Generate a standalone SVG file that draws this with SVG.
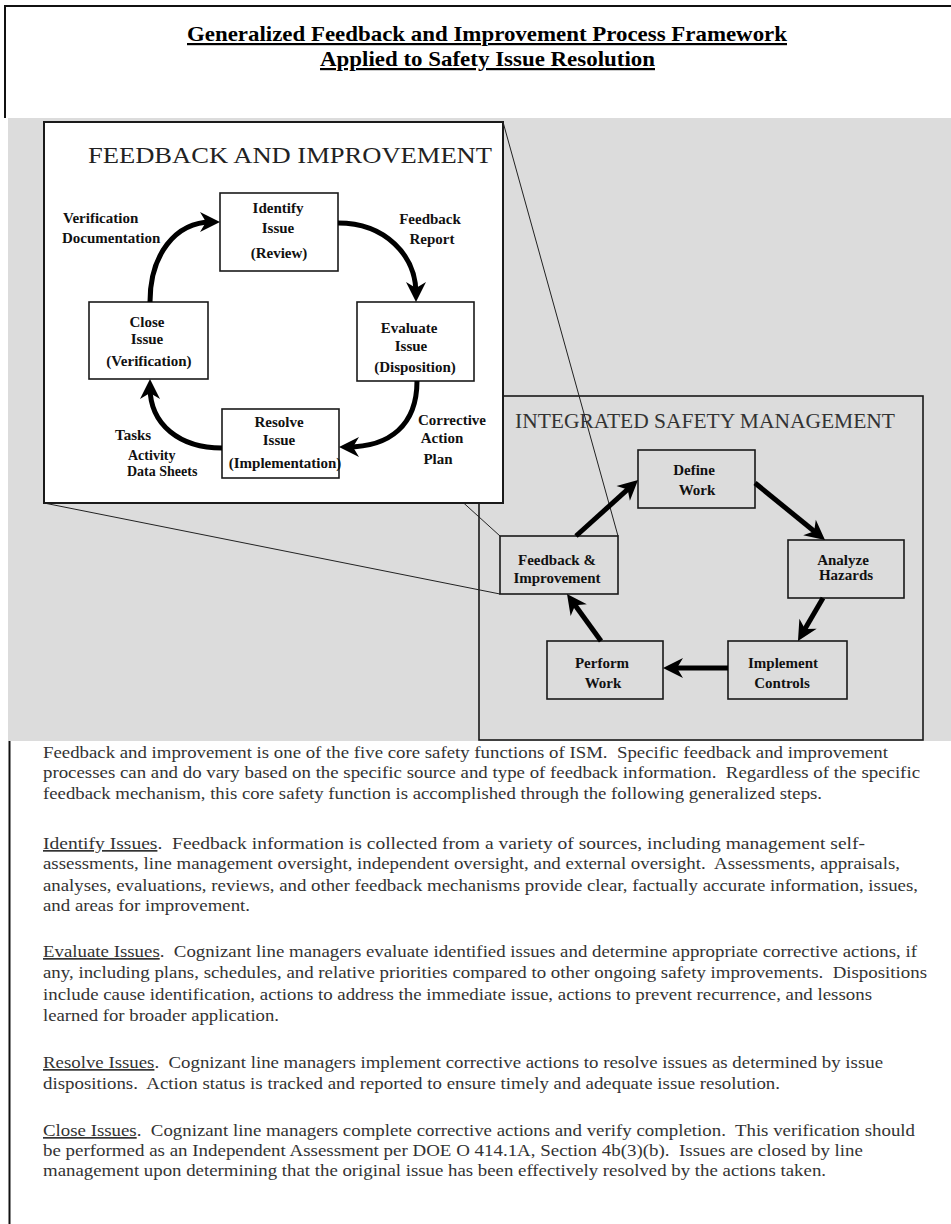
<svg xmlns="http://www.w3.org/2000/svg" width="951" height="1224" viewBox="0 0 951 1224">
<style>
.frame{stroke:#111;stroke-width:2;fill:none}
.box{fill:#fff;stroke:#1a1a1a;stroke-width:2}
.gbox{fill:#dcdcdc;stroke:#1a1a1a;stroke-width:1.6}
.node{fill:#fff;stroke:#1a1a1a;stroke-width:1.6}
.gnode{fill:#dcdcdc;stroke:#1a1a1a;stroke-width:1.6}
.nt{font-family:"Liberation Serif","Times New Roman",serif;font-weight:bold;font-size:15px;fill:#111;text-anchor:middle}
.lb{font-family:"Liberation Serif","Times New Roman",serif;font-weight:bold;font-size:15px;fill:#111}
.hd{font-family:"Liberation Serif","Times New Roman",serif;font-size:23px;fill:#222}
.title{font-family:"Liberation Serif","Times New Roman",serif;font-weight:bold;font-size:22px;fill:#000;text-decoration:underline}
.p{font-family:"Liberation Serif","Times New Roman",serif;font-size:17px;fill:#333;white-space:pre}
.arc{fill:none;stroke:#000;stroke-width:5}
.cl{fill:none;stroke:#222;stroke-width:1}
</style>
<defs>
<marker id="ah" viewBox="-22 -12 24 24" markerWidth="24" markerHeight="24" markerUnits="userSpaceOnUse" refX="-8" refY="0" orient="auto">
<path d="M0,0 L-20,-10 L-14,0 L-20,10 Z" fill="#000"/>
</marker>
</defs>
<rect width="951" height="1224" fill="#fff"/>
<!-- page frame -->
<path class="frame" d="M5,118 V6 H951"/>
<path class="frame" d="M9.5,741 V1224"/>
<!-- title -->
<g id="title">
<text class="title" x="187" y="41" textLength="600" lengthAdjust="spacingAndGlyphs">Generalized Feedback and Improvement Process Framework </text>
<text class="title" x="320" y="66" textLength="335" lengthAdjust="spacingAndGlyphs">Applied to Safety Issue Resolution</text>
</g>
<!-- gray band -->
<rect x="8" y="118" width="943" height="623" fill="#dcdcdc"/>
<!-- ISM box -->
<g id="ism-box">
<rect class="gbox" x="479" y="396" width="444" height="344"/>
<text class="hd" x="515" y="428" textLength="380" lengthAdjust="spacingAndGlyphs" style="font-size:21px;fill:#333">INTEGRATED SAFETY MANAGEMENT</text>
</g>
<!-- callout lines -->
<g id="callout">
<line class="cl" x1="44" y1="122" x2="500" y2="536"/>
<line class="cl" x1="44" y1="503" x2="500" y2="594"/>
</g>
<!-- Feedback box -->
<g id="fb-box">
<rect class="box" x="44" y="122" width="459" height="381"/>
<text class="hd" x="88" y="163" textLength="404" lengthAdjust="spacingAndGlyphs">FEEDBACK AND IMPROVEMENT</text>
</g>
<line class="cl" x1="503" y1="122" x2="618" y2="536"/>
<g id="fb-identify">
<rect class="node" x="220" y="193" width="118" height="78"/>
<text class="nt" x="278" y="213">Identify</text>
<text class="nt" x="278" y="233">Issue</text>
<text class="nt" x="279" y="258">(Review)</text>
</g>
<g id="fb-evaluate">
<rect class="node" x="357" y="302" width="117" height="79"/>
<text class="nt" x="409" y="333">Evaluate</text>
<text class="nt" x="411" y="351">Issue</text>
<text class="nt" x="415" y="372">(Disposition)</text>
</g>
<g id="fb-resolve">
<rect class="node" x="222" y="409" width="117" height="69"/>
<text class="nt" x="279" y="427">Resolve</text>
<text class="nt" x="279" y="445">Issue</text>
<text class="nt" x="285" y="468">(Implementation)</text>
</g>
<g id="fb-close">
<rect class="node" x="89" y="302" width="119" height="77"/>
<text class="nt" x="147" y="327">Close</text>
<text class="nt" x="147" y="344">Issue</text>
<text class="nt" x="149" y="366">(Verification)</text>
</g>
<g id="fb-labels">
<text class="lb" x="63" y="223">Verification</text>
<text class="lb" x="62" y="243">Documentation</text>
<text class="lb" x="430" y="224" text-anchor="middle">Feedback</text>
<text class="lb" x="432" y="244" text-anchor="middle">Report</text>
<text class="lb" x="452" y="425" text-anchor="middle">Corrective</text>
<text class="lb" x="442" y="443" text-anchor="middle">Action</text>
<text class="lb" x="438" y="464" text-anchor="middle">Plan</text>
<text class="lb" x="115" y="440">Tasks</text>
<text class="lb" x="128" y="460" style="font-size:14px">Activity</text>
<text class="lb" x="127" y="476" style="font-size:14px">Data Sheets</text>
</g>
<g id="fb-connectors">
<path class="arc" d="M150,302 C150,255 175,222 212,222" marker-end="url(#ah)"/>
<path class="arc" d="M338,223 C385,223 416,255 416,294" marker-end="url(#ah)"/>
<path class="arc" d="M417,381 C417,425 390,447 347,447" marker-end="url(#ah)"/>
<path class="arc" d="M222,448 C180,448 150,425 150,387" marker-end="url(#ah)"/>
</g>
<!-- ISM nodes -->
<g id="ism-define">
<rect class="gnode" x="638" y="450" width="117" height="58"/>
<text class="nt" x="694" y="475">Define</text>
<text class="nt" x="697" y="495">Work</text>
</g>
<g id="ism-analyze">
<rect class="gnode" x="788" y="540" width="116" height="58"/>
<text class="nt" x="843" y="565">Analyze</text>
<text class="nt" x="846" y="580">Hazards</text>
</g>
<g id="ism-implement">
<rect class="gnode" x="728" y="641" width="119" height="58"/>
<text class="nt" x="783" y="668">Implement</text>
<text class="nt" x="782" y="688">Controls</text>
</g>
<g id="ism-perform">
<rect class="gnode" x="547" y="641" width="116" height="58"/>
<text class="nt" x="602" y="668">Perform</text>
<text class="nt" x="603" y="688">Work</text>
</g>
<g id="ism-feedback">
<rect class="gnode" x="500" y="536" width="118" height="58"/>
<text class="nt" x="557" y="565">Feedback &amp;</text>
<text class="nt" x="557" y="583">Improvement</text>
</g>
<g id="ism-connectors">
<path class="arc" d="M576,536 L632.1,485.4" marker-end="url(#ah)"/>
<path class="arc" d="M755,483 L818.8,535" marker-end="url(#ah)"/>
<path class="arc" d="M823,598 L802,634.1" marker-end="url(#ah)"/>
<path class="arc" d="M728,668 L671,668" marker-end="url(#ah)"/>
<path class="arc" d="M601,641 L571.7,600.5" marker-end="url(#ah)"/>
</g>
<!-- body text -->
<g id="body">
<text class="p" x="43" y="758" textLength="845" lengthAdjust="spacingAndGlyphs">Feedback and improvement is one of the five core safety functions of ISM.  Specific feedback and improvement</text>
<text class="p" x="43" y="778" textLength="877" lengthAdjust="spacingAndGlyphs">processes can and do vary based on the specific source and type of feedback information.  Regardless of the specific</text>
<text class="p" x="43" y="799" textLength="779" lengthAdjust="spacingAndGlyphs">feedback mechanism, this core safety function is accomplished through the following generalized steps.</text>

<text class="p" x="43" y="849" textLength="822" lengthAdjust="spacingAndGlyphs"><tspan text-decoration="underline">Identify Issues</tspan>.  Feedback information is collected from a variety of sources, including management self-</text>
<text class="p" x="43" y="869" textLength="857" lengthAdjust="spacingAndGlyphs">assessments, line management oversight, independent oversight, and external oversight.  Assessments, appraisals,</text>
<text class="p" x="43" y="891" textLength="875" lengthAdjust="spacingAndGlyphs">analyses, evaluations, reviews, and other feedback mechanisms provide clear, factually accurate information, issues,</text>
<text class="p" x="43" y="911" textLength="207" lengthAdjust="spacingAndGlyphs">and areas for improvement.</text>

<text class="p" x="43" y="957" textLength="874" lengthAdjust="spacingAndGlyphs"><tspan text-decoration="underline">Evaluate Issues</tspan>.  Cognizant line managers evaluate identified issues and determine appropriate corrective actions, if</text>
<text class="p" x="43" y="978" textLength="884" lengthAdjust="spacingAndGlyphs">any, including plans, schedules, and relative priorities compared to other ongoing safety improvements.  Dispositions</text>
<text class="p" x="43" y="1000" textLength="829" lengthAdjust="spacingAndGlyphs">include cause identification, actions to address the immediate issue, actions to prevent recurrence, and lessons</text>
<text class="p" x="43" y="1021" textLength="236" lengthAdjust="spacingAndGlyphs">learned for broader application.</text>

<text class="p" x="43" y="1068" textLength="840" lengthAdjust="spacingAndGlyphs"><tspan text-decoration="underline">Resolve Issues</tspan>.  Cognizant line managers implement corrective actions to resolve issues as determined by issue</text>
<text class="p" x="43" y="1089" textLength="737" lengthAdjust="spacingAndGlyphs">dispositions.  Action status is tracked and reported to ensure timely and adequate issue resolution.</text>

<text class="p" x="43" y="1136" textLength="872" lengthAdjust="spacingAndGlyphs"><tspan text-decoration="underline">Close Issues</tspan>.  Cognizant line managers complete corrective actions and verify completion.  This verification should</text>
<text class="p" x="43" y="1156" textLength="820" lengthAdjust="spacingAndGlyphs">be performed as an Independent Assessment per DOE O 414.1A, Section 4b(3)(b).  Issues are closed by line</text>
<text class="p" x="43" y="1176" textLength="783" lengthAdjust="spacingAndGlyphs">management upon determining that the original issue has been effectively resolved by the actions taken.</text>
</g>
</svg>
